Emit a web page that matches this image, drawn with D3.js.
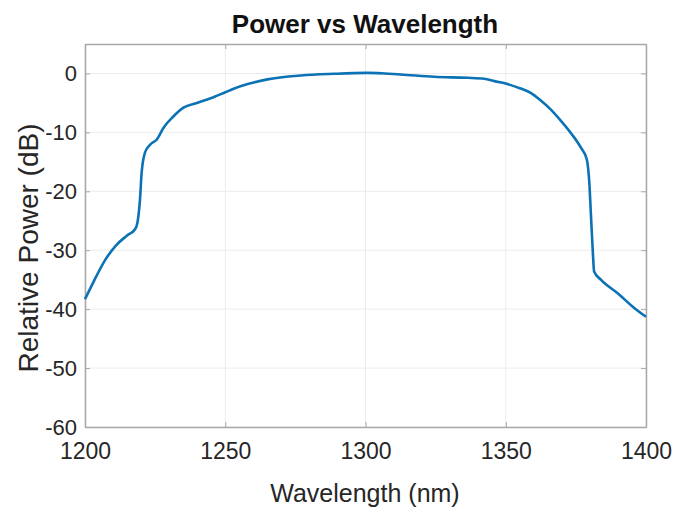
<!DOCTYPE html>
<html>
<head>
<meta charset="utf-8">
<script src="https://cdn.jsdelivr.net/npm/d3@7"></script>
<style>
  body { margin: 0; background: #fff; }
  text { font-family: "Liberation Sans", Arial, sans-serif; fill: #262626; }
</style>
</head>
<body>
<div id="chart"></div>
<script>
/* Power vs Wavelength */

// wavelength (nm) and relative power (dB)
const wavelength = [1200, 1203, 1207, 1211, 1215, 1217.9, 1218.7, 1219.6, 1220.2, 1221.4, 1223.2,
    1225.6, 1228, 1231.5, 1235.1, 1239.9, 1243, 1246, 1250, 1253, 1258, 1265, 1277, 1288.6, 1300.6,
    1312.5, 1324.4, 1336.3, 1342.3, 1346, 1350.6, 1355, 1358.9, 1362.5, 1366, 1369.6, 1373.2,
    1376.8, 1378.9, 1379.8, 1380.4, 1381, 1381.5, 1383.9, 1389.9, 1395.8, 1400];
const power = [-38.3, -35.4, -31.8, -29.2, -27.5, -26.4, -25.3, -21.4, -16.8, -13.4, -12.1,
    -11.2, -9.2, -7.3, -5.8, -5.0, -4.5, -4.0, -3.2, -2.6, -1.8, -1.0, -0.34, -0.06, 0.1,
    -0.17, -0.57, -0.74, -0.9, -1.3, -1.8, -2.5, -3.3, -4.6, -6.1, -8.0, -10.1,
    -12.6, -14.6, -18.6, -24.3, -29.9, -33.6, -35.0, -37.3, -39.8, -41.3];

const xTicks = [1200, 1250, 1300, 1350, 1400];
const yTicks = [0, -10, -20, -30, -40, -50, -60];

const width = 687,
      height = 513,
      margin = ({ top: 44, right: 41, bottom: 86, left: 85 });

let svg = d3.select("#chart")
    .append("svg")
    .attr("width", width)
    .attr("height", height);

let x = d3.scaleLinear()
    .domain([1200, 1400])
    .range([margin.left, width - margin.right]);

let y = d3.scaleLinear()
    .domain([-60, 5])
    .range([height - margin.bottom, margin.top]);

// grid
svg.append("g")
    .selectAll("line")
    .data(xTicks)
    .join("line")
    .attr("x1", d => x(d)).attr("x2", d => x(d))
    .attr("y1", y(-60)).attr("y2", y(5))
    .attr("stroke", "#ececec");

svg.append("g")
    .selectAll("line")
    .data(yTicks)
    .join("line")
    .attr("y1", d => y(d)).attr("y2", d => y(d))
    .attr("x1", x(1200)).attr("x2", x(1400))
    .attr("stroke", "#ececec");

// axes, ticks pointing inward, plain hyphen minus like the original
let fmt = d => String(d);

let xAxis = svg.append("g")
    .attr("transform", `translate(0,${y(-60)})`)
    .call(d3.axisBottom(x).tickValues(xTicks).tickFormat(fmt).tickSize(-5).tickPadding(16).tickSizeOuter(0));

let xTop = svg.append("g")
    .attr("transform", `translate(0,${y(5)})`)
    .call(d3.axisTop(x).tickValues(xTicks).tickSize(-5).tickFormat("").tickSizeOuter(0));

let yAxis = svg.append("g")
    .attr("transform", `translate(${x(1200)},0)`)
    .call(d3.axisLeft(y).tickValues(yTicks).tickFormat(fmt).tickSize(-5).tickPadding(8).tickSizeOuter(0));

let yRight = svg.append("g")
    .attr("transform", `translate(${x(1400)},0)`)
    .call(d3.axisRight(y).tickValues(yTicks).tickSize(-5).tickFormat("").tickSizeOuter(0));

for (let a of [xAxis, xTop, yAxis, yRight]) {
    a.select(".domain").attr("stroke", "#a8a8a8").attr("stroke-width", 1.5);
    a.selectAll(".tick line").attr("stroke", "#a8a8a8");
}
xAxis.selectAll(".tick text").style("font-size", "23px").attr("fill", "#262626");
yAxis.selectAll(".tick text").style("font-size", "22px").attr("fill", "#262626");

// the curve
svg.append("path")
    .datum(wavelength.map((w, i) => [w, power[i]]))
    .attr("fill", "none")
    .attr("stroke", "#0a72b5")
    .attr("stroke-width", 2.6)
    .attr("stroke-linejoin", "round")
    .attr("d", d3.line().x(d => x(d[0])).y(d => y(d[1])).curve(d3.curveMonotoneX));

// labels
svg.append("text")
    .attr("x", 365)
    .attr("y", 33)
    .attr("text-anchor", "middle")
    .style("font-weight", "bold")
    .style("font-size", "26px")
    .style("fill", "#111")
    .text("Power vs Wavelength");

svg.append("text")
    .attr("x", 365)
    .attr("y", 502)
    .attr("text-anchor", "middle")
    .style("font-size", "25px")
    .text("Wavelength (nm)");

svg.append("text")
    .attr("transform", "translate(38,248) rotate(-90)")
    .attr("text-anchor", "middle")
    .style("font-size", "28px")
    .text("Relative Power (dB)");
</script>
</body>
</html>
